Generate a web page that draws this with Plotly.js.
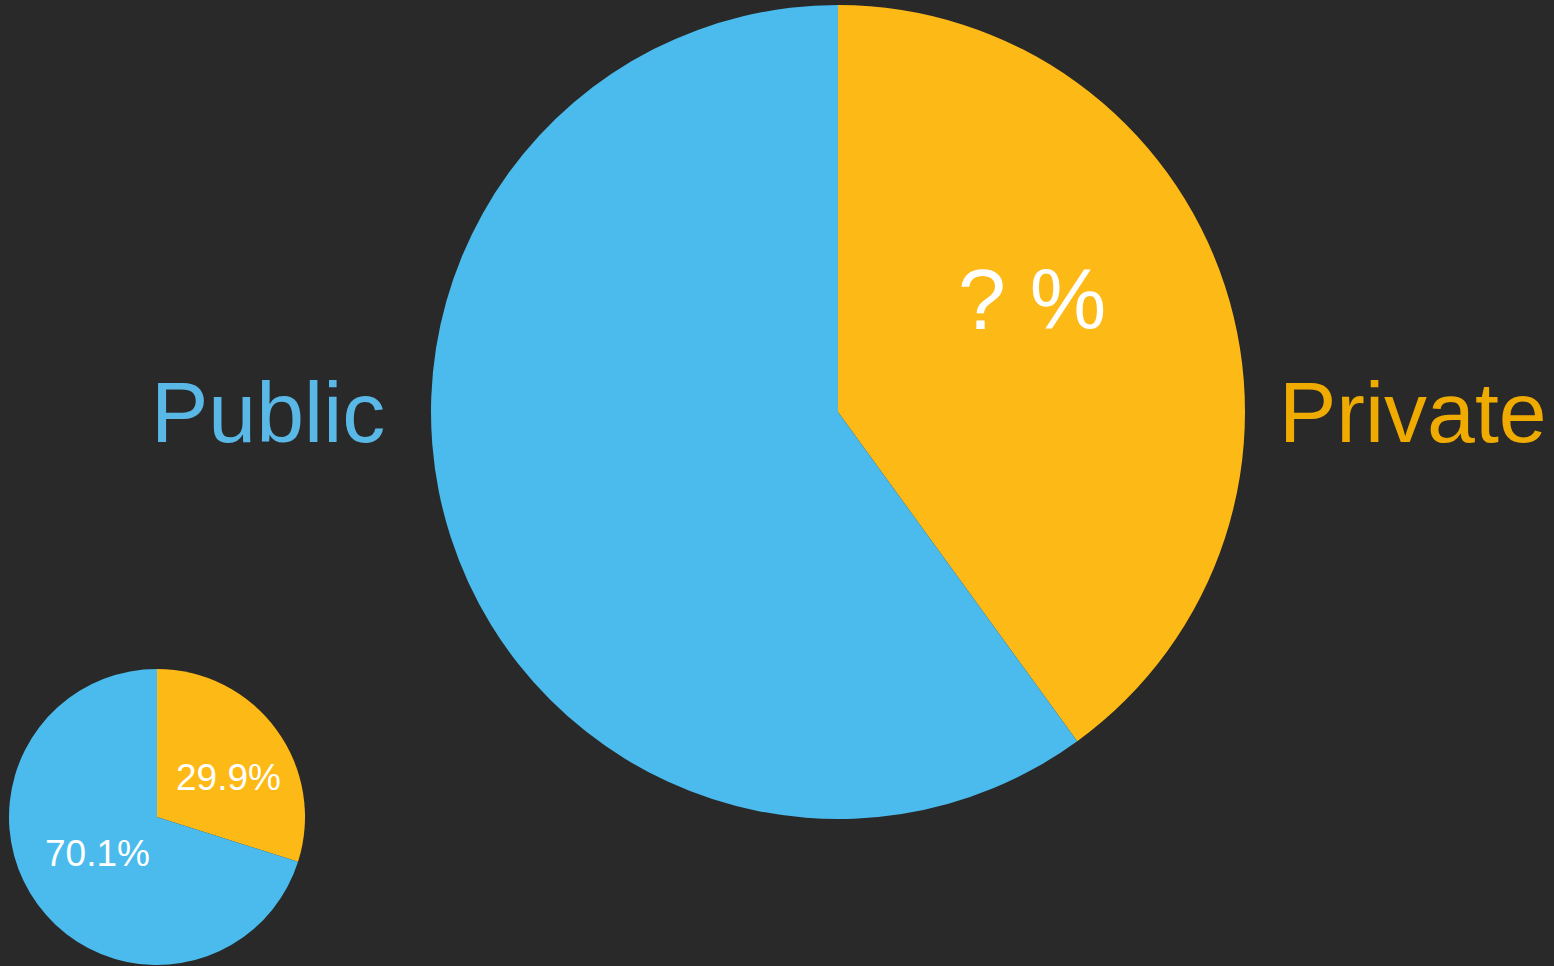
<!DOCTYPE html>
<html>
<head>
<meta charset="utf-8">
<script src="https://cdn.plot.ly/plotly-3.0.1.min.js"></script>
<style>html,body{margin:0;padding:0;background:#292929;}#chart{width:1554px;height:966px;}</style>
</head>
<body>
<div id="chart"></div>
<script>
const categories = ["Private", "Public"];
const bigValues = [40, 60];
const bigLabelText = ["? %", ""];
const smallValues = [29.9, 70.1];
const sliceColors = ["#FDB915", "#4ABBEC"];
const labelColors = ["#F0AB00", "#5AB8E6"];

const W = 1554, H = 966;
const FONT = "Liberation Sans, Arial, sans-serif";
function dom(cx, cy, r) {
  return {x: [(cx - r) / W, (cx + r) / W], y: [(H - cy - r) / H, (H - cy + r) / H]};
}
function ann(text, px, py, size, color) {
  return {text: text, x: px / W, y: (H - py) / H, xref: "paper", yref: "paper",
    xanchor: "center", yanchor: "middle", showarrow: false,
    font: {color: color, size: size, family: FONT}};
}

const traces = [
  {
    type: "pie", labels: categories, values: bigValues, sort: false,
    direction: "clockwise", rotation: 0,
    marker: {colors: sliceColors, line: {width: 0}},
    textinfo: "none",
    domain: dom(838, 412, 407), hoverinfo: "skip", showlegend: false
  },
  {
    type: "pie", labels: categories, values: smallValues, sort: false,
    direction: "clockwise", rotation: 0,
    marker: {colors: sliceColors, line: {width: 0}},
    textinfo: "none",
    domain: dom(157, 817, 148), hoverinfo: "skip", showlegend: false
  }
];

const layout = {
  width: W, height: H,
  margin: {l: 0, r: 0, t: 0, b: 0},
  paper_bgcolor: "#292929", plot_bgcolor: "#292929",
  showlegend: false,
  annotations: [
    ann(categories[1], 268, 412, 86, labelColors[1]),
    ann(categories[0], 1413, 412, 86, labelColors[0]),
    ann(bigLabelText[0], 1032, 299, 86, "#ffffff"),
    ann(smallValues[0].toFixed(1) + "%", 228, 777, 37, "#ffffff"),
    ann(smallValues[1].toFixed(1) + "%", 98, 853, 37, "#ffffff")
  ]
};

Plotly.newPlot("chart", traces, layout, {displayModeBar: false, staticPlot: true});
</script>
</body>
</html>
